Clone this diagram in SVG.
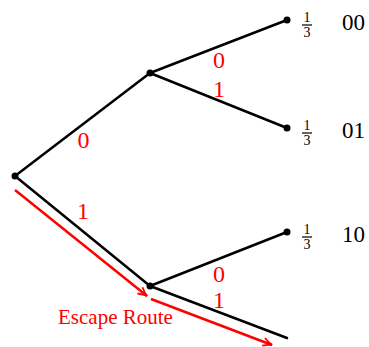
<svg xmlns="http://www.w3.org/2000/svg" width="369" height="347" viewBox="0 0 369 347">
<style>
.e{stroke:#000;stroke-width:2.5;fill:none;stroke-linecap:round}
.r{stroke:#f00;stroke-width:2.5;fill:none}
.d{fill:#000}
.lr{font-size:24px;fill:#f00;text-anchor:middle}
.lb{font-size:23px;fill:#000}
.fr{font-size:14px;fill:#000;text-anchor:middle}
.es{font-size:21px;fill:#f00}
</style>
<defs>
<marker id="ah" markerWidth="12" markerHeight="10" refX="10" refY="5" orient="auto" markerUnits="userSpaceOnUse">
<path d="M1,1 Q6,4 10,5 Q6,6 1,9" fill="none" stroke="#f00" stroke-width="1.8"/>
</marker>
</defs>
<g id="connectors">
<line class="e" x1="15" y1="176" x2="150" y2="73"/>
<line class="e" x1="15" y1="176" x2="150" y2="286"/>
<line class="e" x1="150" y1="73" x2="287" y2="20"/>
<line class="e" x1="150" y1="73" x2="287" y2="128"/>
<line class="e" x1="150" y1="286" x2="287" y2="232"/>
<line class="e" x1="150" y1="286" x2="287" y2="338"/>
<line class="r" x1="15" y1="190" x2="147" y2="296" marker-end="url(#ah)"/>
<line class="r" x1="151" y1="299" x2="272" y2="345" marker-end="url(#ah)"/>
</g>
<g font-family="Liberation Serif, serif">
<g id="edge-labels">
<text class="lr" x="83.5" y="148">0</text>
<text class="lr" x="83" y="219">1</text>
<text class="lr" x="219" y="68">0</text>
<text class="lr" x="219" y="97">1</text>
<text class="lr" x="219" y="282">0</text>
<text class="lr" x="219" y="308">1</text>
</g>
<g id="root"><circle class="d" cx="15" cy="176" r="3.5"/></g>
<g id="n0"><circle class="d" cx="150" cy="73" r="3.5"/></g>
<g id="n1"><circle class="d" cx="150" cy="286" r="3.5"/></g>
<g id="leaf00">
<circle class="d" cx="287" cy="20" r="3.5"/>
<text class="fr" x="307" y="22">1</text>
<line x1="302" y1="25" x2="312" y2="25" stroke="#000" stroke-width="1.2"/>
<text class="fr" x="307" y="37">3</text>
<text class="lb" x="342" y="30">00</text>
</g>
<g id="leaf01">
<circle class="d" cx="287" cy="128" r="3.5"/>
<text class="fr" x="307" y="130">1</text>
<line x1="302" y1="133" x2="312" y2="133" stroke="#000" stroke-width="1.2"/>
<text class="fr" x="307" y="145">3</text>
<text class="lb" x="342" y="138">01</text>
</g>
<g id="leaf10">
<circle class="d" cx="287" cy="232" r="3.5"/>
<text class="fr" x="307" y="234">1</text>
<line x1="302" y1="237" x2="312" y2="237" stroke="#000" stroke-width="1.2"/>
<text class="fr" x="307" y="249">3</text>
<text class="lb" x="342" y="242">10</text>
</g>
<g id="escape-label">
<text class="es" x="58" y="324">Escape Route</text>
</g>
</g>
</svg>
